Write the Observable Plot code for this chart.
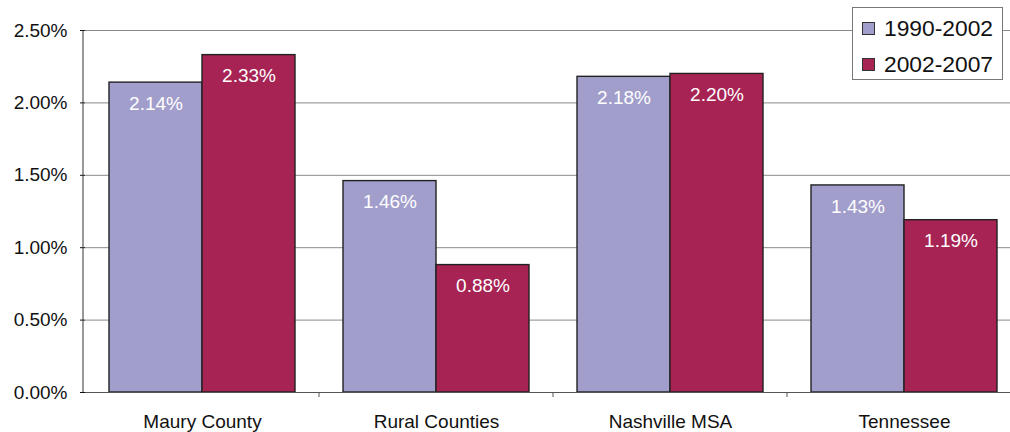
<!DOCTYPE html>
<html><head><meta charset="utf-8">
<script src="https://cdn.jsdelivr.net/npm/d3@7"></script>
<script src="https://cdn.jsdelivr.net/npm/@observablehq/plot@0.6"></script>
<style>
html,body{margin:0;padding:0;overflow:hidden;background:#fff;}
#wrap{position:relative;width:1010px;height:432px;overflow:hidden;}
#wrap svg{max-width:none !important;}
#legend{position:absolute;left:852px;top:7px;width:149px;height:71px;border:1px solid #777;background:#fff;font-family:"Liberation Sans",Arial,sans-serif;font-size:22.8px;color:#111;}
.row{position:absolute;left:9px;display:flex;align-items:center;height:30px;white-space:nowrap;}
.sw{width:13px;height:13px;border:1px solid #333;margin-right:9px;box-sizing:border-box;}
</style></head><body><div id="wrap"><div id="legend"></div></div>
<script>
const categories = ["Maury County","Rural Counties","Nashville MSA","Tennessee"];
const series = ["1990-2002","2002-2007"];
const values1990 = [0.0214,0.0146,0.0218,0.0143];
const values2002 = [0.0233,0.0088,0.0220,0.0119];
const colors = ["#a29ecb","#a62353"];
const yTicks = [0,0.005,0.01,0.015,0.02,0.025];

const data = categories.flatMap((c,i)=>[
  {cat:c, s:series[0], v:values1990[i]},
  {cat:c, s:series[1], v:values2002[i]}
]);

const plot = Plot.plot({
  width:1022, height:432, marginLeft:83, marginRight:0, marginTop:30, marginBottom:40,
  style:{fontFamily:"Liberation Sans, Arial, sans-serif", fontSize:"19px", color:"#111", background:"transparent", overflow:"visible", maxWidth:"none"},
  fx:{domain:categories, padding:0, label:null, axis:"bottom", tickSize:0, tickPadding:22},
  x:{domain:series, paddingInner:0, paddingOuter:0.25, axis:null},
  y:{domain:[0,0.025], ticks:yTicks, tickFormat:".2%", tickSize:5, tickPadding:13, label:null},
  color:{domain:series, range:colors},
  marks:[
    Plot.ruleY(yTicks.slice(1), {stroke:"#8a8a8a", strokeWidth:1}),
    Plot.barY(data,{fx:"cat", x:"s", y:"v", fill:"s", stroke:"#222", strokeWidth:1.4}),
    Plot.text(data,{fx:"cat", x:"s", y:"v", text:d=>d3.format(".2%")(d.v), fill:"white", dy:21, fontSize:19}),
    Plot.ruleY([0], {stroke:"#555", strokeWidth:1})
  ]
});
document.getElementById("wrap").prepend(plot);

// axis line and category boundary ticks from the library's scales
const fx = plot.scale("fx"), y = plot.scale("y");
const svg = d3.select(plot);
const x0 = fx.range[0];
svg.append("line").attr("x1",x0).attr("x2",x0).attr("y1",y.apply(0.025)).attr("y2",y.apply(0)).attr("stroke","#333");
const bounds = categories.map(c=>fx.apply(c));
bounds.push(bounds[bounds.length-1] + fx.step);
svg.append("g").selectAll("line").data(bounds.slice(1)).join("line")
  .attr("x1",d=>d).attr("x2",d=>d).attr("y1",y.apply(0)).attr("y2",y.apply(0)+5).attr("stroke","#555");

// legend
const lg = d3.select("#legend");
series.forEach((s,i)=>{
  const r = lg.append("div").attr("class","row").style("top",(5+i*36)+"px");
  r.append("div").attr("class","sw").style("background",colors[i]);
  r.append("span").text(s);
});
</script></body></html>
